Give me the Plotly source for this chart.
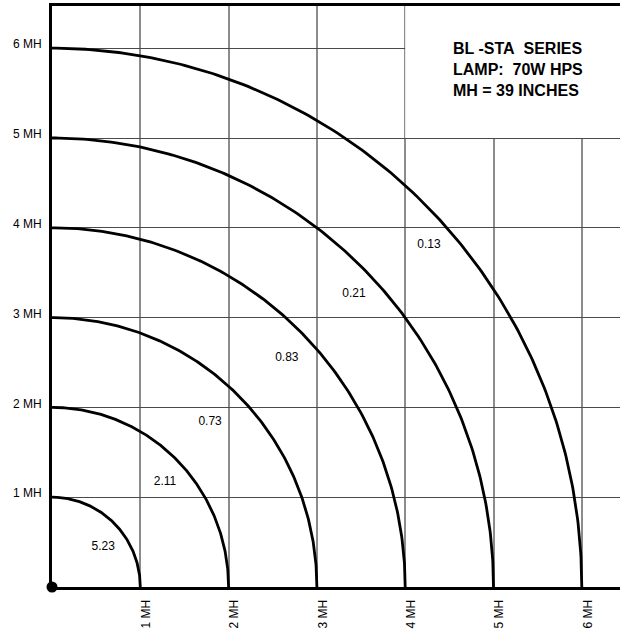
import numpy as np
import plotly.graph_objects as go

# Data
radii = [1, 2, 3, 4, 5, 6]                      # isoline radii in MH
values = ["5.23", "2.11", "0.73", "0.83", "0.21", "0.13"]   # footcandle labels
label_x = [0.58, 1.28, 1.79, 2.66, 3.42, 4.27]
label_y = [0.45, 1.17, 1.84, 2.55, 3.26, 3.81]
tick_vals = [1, 2, 3, 4, 5, 6]
tick_text = ["1 MH", "2 MH", "3 MH", "4 MH", "5 MH", "6 MH"]
title_lines = ["BL -STA\u00a0\u00a0SERIES", "LAMP:\u00a0\u00a070W HPS", "MH = 39 INCHES"]

FONT = "Liberation Sans, Arial, sans-serif"
fig = go.Figure()

theta = np.linspace(0, np.pi / 2, 200)
for r in radii:
    fig.add_trace(go.Scatter(x=r * np.cos(theta), y=r * np.sin(theta), mode="lines",
                             line=dict(color="black", width=2.8), hoverinfo="skip",
                             showlegend=False))

fig.add_trace(go.Scatter(x=label_x, y=label_y, mode="text", text=values,
                         textfont=dict(family=FONT, size=12, color="black"),
                         showlegend=False, hoverinfo="skip"))

fig.add_trace(go.Scatter(x=[0], y=[0], mode="markers",
                         marker=dict(color="black", size=11), showlegend=False,
                         cliponaxis=False, hoverinfo="skip"))

xmax = 568 / 88.3
ymax = 581 / 89.8

# white panel hiding grid behind the title block
fig.add_shape(type="rect", x0=4, x1=xmax + 1, y0=5, y1=ymax + 1, layer="between",
              fillcolor="white", line=dict(width=0))

fig.add_annotation(x=4.52, y=5.76, xref="x", yref="y", xanchor="left", yanchor="middle",
                   align="left", showarrow=False,
                   text="<br>".join("<b>%s</b>" % t for t in title_lines),
                   font=dict(family=FONT, size=16, color="black"))

fig.update_layout(
    width=620, height=633,
    margin=dict(l=52, r=0, t=6, b=46),
    plot_bgcolor="white", paper_bgcolor="white",
    xaxis=dict(range=[0, xmax], tickvals=tick_vals, ticktext=tick_text, tickangle=-90,
               showgrid=True, gridcolor="#8c8c8c", gridwidth=1.5, zeroline=False,
               showline=True, linecolor="black", linewidth=3, mirror=True,
               ticks="", ticklabelstandoff=5, ticklabelshift=6, automargin=False,
               tickfont=dict(family=FONT, size=12, color="black")),
    yaxis=dict(range=[0, ymax], tickvals=tick_vals, ticktext=tick_text,
               showgrid=True, gridcolor="#4a4a4a", gridwidth=1, zeroline=False,
               showline=True, linecolor="black", linewidth=3, automargin=False,
               ticks="", ticklabelstandoff=5, ticklabelshift=-4,
               tickfont=dict(family=FONT, size=12, color="black")),
)

fig.write_html("out.html", config={"displayModeBar": False},
               post_script="document.body.style.margin='0px';document.body.style.overflow='hidden';")
